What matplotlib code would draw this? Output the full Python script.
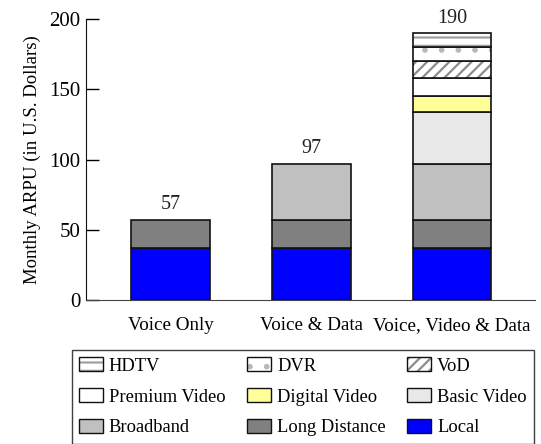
import matplotlib
matplotlib.use('Agg')
import matplotlib.pyplot as plt
import numpy as np
from matplotlib.patches import Patch

plt.rcParams['font.family'] = ['Liberation Serif', 'DejaVu Serif']
plt.rcParams['hatch.linewidth'] = 1.6

# service bundles and ARPU components (USD per month)
bundles = ['Voice Only', 'Voice & Data', 'Voice, Video & Data']
components = ['Local', 'Long Distance', 'Broadband', 'Basic Video', 'Digital Video',
              'Premium Video', 'VoD', 'DVR', 'HDTV']
local = [37, 37, 37]
long_distance = [20, 20, 20]
broadband = [0, 40, 40]
basic_video = [0, 0, 37]
digital_video = [0, 0, 11]
premium_video = [0, 0, 13]
vod = [0, 0, 12]
dvr = [0, 0, 10]
hdtv = [0, 0, 10]
totals = [57, 97, 190]

series = [local, long_distance, broadband, basic_video, digital_video,
          premium_video, vod, dvr, hdtv]
# fill colour, hatch pattern, hatch colour
styles = [
    ('#0000ff', None, None),
    ('#808080', None, None),
    ('#c0c0c0', None, None),
    ('#e8e8e8', None, None),
    ('#ffff99', None, None),
    ('#ffffff', None, None),
    ('#ffffff', '///', '#8c8c8c'),
    ('#ffffff', '.', '#b8b8b8'),
    ('#ffffff', '--', '#a0a0a0'),
]

fig = plt.figure(figsize=(5.41, 4.44), dpi=100)
ax = fig.add_axes([0.159, 0.324, 0.830, 0.633])

x = np.arange(len(bundles))
width = 0.56
bottom = np.zeros(len(bundles))
handles = {}
for name, vals, (fc, hatch, hc) in zip(components, series, styles):
    vals = np.array(vals, dtype=float)
    mask = vals > 0
    if hatch:
        ax.bar(x[mask], vals[mask], width, bottom=bottom[mask], color=fc,
               hatch=hatch, edgecolor=hc, linewidth=0)
        ax.bar(x[mask], vals[mask], width, bottom=bottom[mask], fill=False,
               edgecolor='#111111', linewidth=1.2)
        h = (Patch(facecolor=fc, hatch=hatch, edgecolor=hc, linewidth=0),
             Patch(fill=False, edgecolor='#111111', linewidth=1.0))
    else:
        ax.bar(x[mask], vals[mask], width, bottom=bottom[mask], color=fc,
               edgecolor='#111111', linewidth=1.2)
        h = Patch(facecolor=fc, edgecolor='#111111', linewidth=1.0)
    handles[name] = h
    bottom += vals

for xi, t in zip(x, totals):
    ax.text(xi, t + 4, str(t), ha='center', va='bottom', fontsize=14.5,
            color='#222222', clip_on=False)

ax.set_xlim(-0.6, 2.59)
ax.set_ylim(0, 200)
ax.set_yticks([0, 50, 100, 150, 200])
ax.set_xticks(x)
ax.set_xticklabels(bundles)
ax.tick_params(axis='y', direction='in', length=9, width=1, labelsize=15, pad=4)
ax.tick_params(axis='x', length=0, labelsize=13.7, pad=12)
ax.spines['top'].set_visible(False)
ax.spines['right'].set_visible(False)
ax.spines['left'].set_color('#111111')
ax.spines['bottom'].set_color('#444444')
ax.set_ylabel('Monthly ARPU (in U.S. Dollars)', fontsize=13.5, labelpad=6)

# legend rows read left to right, matplotlib fills columns first
order = ['HDTV', 'Premium Video', 'Broadband',
         'DVR', 'Digital Video', 'Long Distance',
         'VoD', 'Basic Video', 'Local']
leg = fig.legend([handles[n] for n in order], order, ncol=3,
                 loc='upper left', bbox_to_anchor=(0.133, 0.007, 0.854, 0.205),
                 mode='expand', fontsize=13.3, frameon=True, fancybox=False,
                 edgecolor='#111111', handlelength=1.3, handleheight=0.8,
                 handletextpad=0.3, labelspacing=0.72, borderaxespad=0,
                 borderpad=0.4)
leg.get_frame().set_linewidth(1.0)

fig.savefig('out.png', dpi=100)
